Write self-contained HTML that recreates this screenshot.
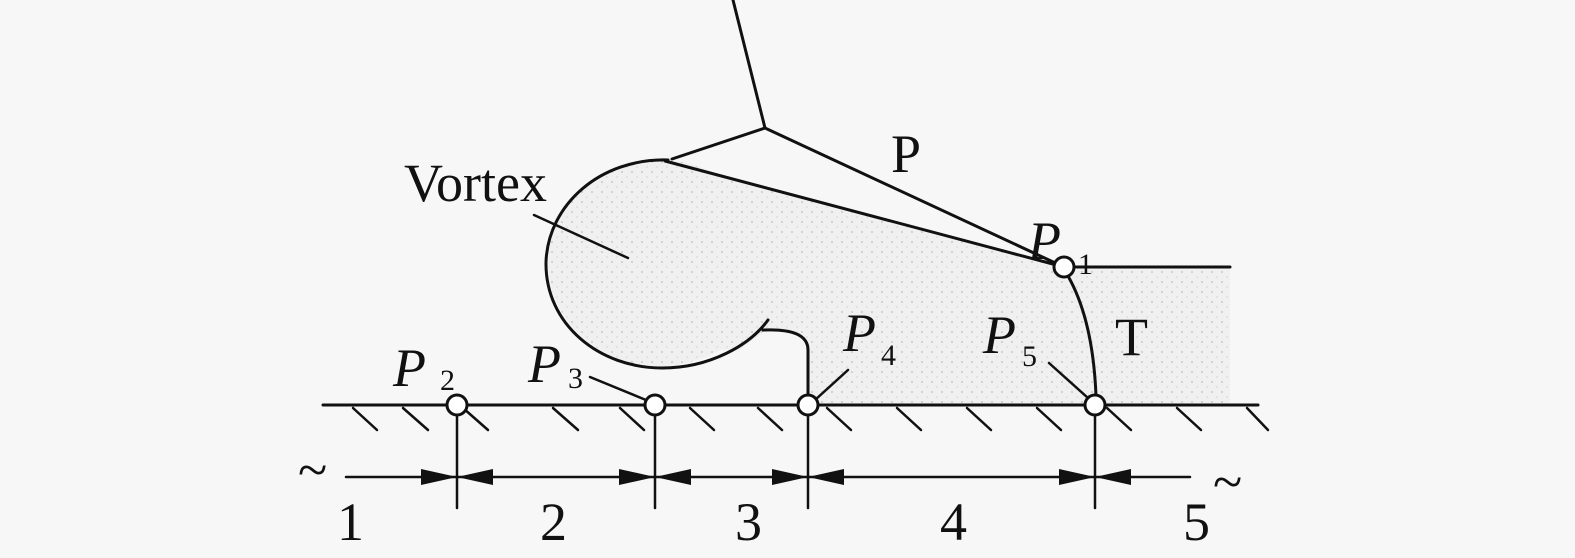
<!DOCTYPE html>
<html><head><meta charset="utf-8"><style>
html,body{margin:0;padding:0;background:#f7f7f7;}
svg{display:block;}
text{font-family:"Liberation Serif",serif;fill:#111;}
</style></head><body>
<svg width="1575" height="558" viewBox="0 0 1575 558" xmlns="http://www.w3.org/2000/svg">
<defs>
<pattern id="dots" width="10" height="10" patternUnits="userSpaceOnUse">
<rect width="10" height="10" fill="#f0f0f0"/>
<circle cx="2" cy="2" r="1" fill="#c8c8c8"/>
<circle cx="7" cy="7" r="0.8" fill="#d4d4d4"/>
</pattern>
</defs>
<path d="M668,160 L1064,267 L1230,267 L1230,405 L808,405 L808,345 Q805,332 768,328 L740,350 A115,105 0 0 1 668,160 Z" fill="url(#dots)"/>
<ellipse cx="660" cy="263" rx="112" ry="103" fill="url(#dots)"/>
<g stroke="#111" stroke-width="3" fill="none" stroke-linecap="round">
<line x1="733" y1="0" x2="765" y2="128"/>
<line x1="765" y1="128" x2="672" y2="159"/>
<line x1="765" y1="128" x2="1064" y2="267"/>
<line x1="665" y1="161" x2="1064" y2="267"/>
<line x1="1064" y1="267" x2="1230" y2="267"/>
<path d="M668,160 C600,158 548,205 546,262 C545,325 600,368 662,368 C710,368 750,345 768,320"/>
<path d="M763,330 Q808,328 808,350 L808,405"/>
<path d="M1068,276 Q1093,320 1096,396"/>
<line x1="323" y1="405" x2="1258" y2="405"/>
<g stroke-width="2.5">
<line x1="353" y1="408" x2="377" y2="430"/>
<line x1="403" y1="408" x2="428" y2="430"/>
<line x1="463" y1="408" x2="488" y2="430"/>
<line x1="553" y1="408" x2="578" y2="430"/>
<line x1="620" y1="408" x2="644" y2="430"/>
<line x1="690" y1="408" x2="714" y2="430"/>
<line x1="758" y1="408" x2="782" y2="430"/>
<line x1="827" y1="408" x2="851" y2="430"/>
<line x1="897" y1="408" x2="921" y2="430"/>
<line x1="967" y1="408" x2="991" y2="430"/>
<line x1="1037" y1="408" x2="1061" y2="430"/>
<line x1="1107" y1="408" x2="1131" y2="430"/>
<line x1="1177" y1="408" x2="1201" y2="430"/>
<line x1="1247" y1="408" x2="1268" y2="430"/>
</g>
<line x1="534" y1="215" x2="628" y2="258" stroke-width="2.5"/>
<line x1="590" y1="377" x2="646" y2="400" stroke-width="2.5"/>
<line x1="848" y1="370" x2="815" y2="400" stroke-width="2.5"/>
<line x1="1049" y1="363" x2="1088" y2="398" stroke-width="2.5"/>
<line x1="457" y1="405" x2="457" y2="508" stroke-width="2.5"/>
<line x1="655" y1="405" x2="655" y2="508" stroke-width="2.5"/>
<line x1="808" y1="405" x2="808" y2="508" stroke-width="2.5"/>
<line x1="1095" y1="405" x2="1095" y2="508" stroke-width="2.5"/>
<line x1="346" y1="477" x2="1190" y2="477" stroke-width="2.5"/>
</g>
<g fill="#111">
<polygon points="457,477 421,469 421,485"/><polygon points="457,477 493,469 493,485"/>
<polygon points="655,477 619,469 619,485"/><polygon points="655,477 691,469 691,485"/>
<polygon points="808,477 772,469 772,485"/><polygon points="808,477 844,469 844,485"/>
<polygon points="1095,477 1059,469 1059,485"/><polygon points="1095,477 1131,469 1131,485"/>
</g>
<g fill="#fff" stroke="#111" stroke-width="3">
<circle cx="457" cy="405" r="10"/>
<circle cx="655" cy="405" r="10"/>
<circle cx="808" cy="405" r="10"/>
<circle cx="1095" cy="405" r="10"/>
<circle cx="1064" cy="267" r="10"/>
</g>
<g font-size="54">
<text x="404" y="201">Vortex</text>
<text x="891" y="172">P</text>
<text x="1115" y="355">T</text>
<text x="337" y="540">1</text>
<text x="540" y="540">2</text>
<text x="735" y="540">3</text>
<text x="940" y="540">4</text>
<text x="1183" y="540">5</text>
<text x="298" y="488">~</text>
<text x="1213" y="500">~</text>
<g font-style="italic">
<text x="1028" y="259">P</text>
<text x="393" y="386">P</text>
<text x="528" y="382">P</text>
<text x="843" y="351">P</text>
<text x="983" y="353">P</text>
</g>
<g font-size="30">
<text x="1078" y="274">1</text>
<text x="440" y="390">2</text>
<text x="568" y="388">3</text>
<text x="881" y="365">4</text>
<text x="1022" y="366">5</text>
</g>
</g>
</svg>
</body></html>
